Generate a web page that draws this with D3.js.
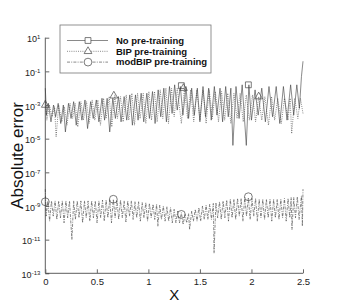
<!DOCTYPE html>
<html>
<head>
<meta charset="utf-8">
<script src="https://cdn.jsdelivr.net/npm/d3@7"></script>
<style>
  body { margin: 0; background: #fff; }
  svg { font-family: "Liberation Sans", Arial, sans-serif; }
</style>
</head>
<body>
<svg id="chart" width="346" height="308"></svg>
<script>
// Absolute error vs x, three pre-training variants (values as log10 of error)

const noPreX = [0.000,0.012,0.030,0.055,0.080,0.100,0.125,0.150,0.175,0.195,0.225,0.250,0.275,0.300,0.330,0.355,0.385,0.410,0.440,0.465,0.495,0.520,0.550,0.575,0.600,0.625,0.655,0.680,0.710,0.735,0.765,0.790,0.820,0.845,0.875,0.900,0.930,0.955,0.985,1.010,1.040,1.065,1.095,1.120,1.150,1.175,1.205,1.230,1.255,1.280,1.310,1.335,1.365,1.390,1.420,1.445,1.475,1.500,1.530,1.555,1.585,1.610,1.640,1.665,1.695,1.720,1.750,1.775,1.800,1.820,1.850,1.880,1.910,1.950,1.975,2.000,2.035,2.065,2.100,2.135,2.170,2.205,2.240,2.275,2.310,2.345,2.380,2.410,2.440,2.465,2.485,2.500];
const noPreLog = [-2.0,-3.6,-2.9,-4.0,-3.0,-3.7,-2.9,-4.1,-3.0,-4.6,-2.9,-3.8,-2.8,-4.2,-2.8,-3.9,-2.7,-4.4,-2.8,-3.8,-2.7,-4.0,-2.6,-3.9,-2.6,-4.6,-2.6,-3.8,-2.5,-4.0,-2.5,-3.9,-2.4,-4.2,-2.4,-3.9,-2.3,-4.0,-2.3,-3.8,-2.2,-4.1,-2.1,-3.7,-2.0,-4.0,-1.9,-3.5,-1.8,-3.3,-1.9,-3.6,-1.9,-3.8,-2.0,-3.6,-2.0,-4.0,-1.9,-3.7,-2.0,-3.9,-1.9,-3.6,-2.0,-4.0,-1.9,-3.7,-2.0,-5.4,-1.9,-3.8,-1.8,-5.4,-1.8,-3.9,-2.1,-3.6,-2.0,-4.0,-1.9,-3.7,-1.9,-4.1,-1.9,-3.9,-1.8,-3.6,-1.8,-3.2,-1.3,-0.4];

const bipX = [0.000,0.015,0.040,0.065,0.090,0.105,0.130,0.160,0.185,0.210,0.240,0.265,0.290,0.315,0.345,0.370,0.400,0.425,0.455,0.480,0.510,0.535,0.565,0.590,0.620,0.645,0.675,0.700,0.730,0.755,0.785,0.810,0.840,0.865,0.895,0.920,0.950,0.975,1.005,1.030,1.060,1.085,1.115,1.140,1.170,1.195,1.225,1.250,1.280,1.320,1.350,1.380,1.410,1.440,1.470,1.500,1.530,1.560,1.590,1.620,1.650,1.680,1.710,1.740,1.770,1.800,1.830,1.860,1.890,1.920,1.950,1.980,2.010,2.040,2.070,2.100,2.130,2.165,2.195,2.225,2.255,2.290,2.320,2.355,2.375,2.390,2.420,2.450,2.475,2.500];
const bipLog = [-2.7,-3.9,-3.0,-3.7,-3.1,-4.9,-3.0,-4.0,-3.1,-4.2,-2.9,-3.8,-2.9,-4.3,-2.8,-3.9,-2.8,-4.1,-2.7,-3.9,-2.7,-4.2,-2.6,-3.8,-2.5,-4.3,-2.4,-3.8,-2.5,-4.0,-2.4,-3.9,-2.3,-4.2,-2.3,-3.8,-2.3,-4.1,-2.2,-3.9,-2.2,-4.0,-2.1,-3.8,-2.0,-4.1,-2.0,-3.7,-2.0,-4.1,-2.0,-3.8,-2.1,-4.0,-2.1,-3.9,-2.1,-4.1,-2.1,-3.8,-2.2,-4.0,-2.2,-3.9,-2.3,-4.1,-2.3,-3.8,-2.3,-4.0,-2.4,-3.9,-2.4,-4.0,-2.5,-3.9,-2.5,-4.2,-2.5,-3.9,-2.6,-4.1,-2.6,-3.9,-2.6,-4.7,-2.6,-3.8,-2.6,-3.5];

const modX = [0.000,0.008,0.025,0.042,0.060,0.077,0.095,0.112,0.130,0.147,0.165,0.182,0.200,0.217,0.235,0.258,0.275,0.292,0.310,0.327,0.345,0.362,0.380,0.397,0.415,0.432,0.450,0.467,0.485,0.502,0.520,0.537,0.555,0.572,0.590,0.607,0.625,0.642,0.660,0.677,0.695,0.712,0.730,0.747,0.765,0.782,0.800,0.817,0.835,0.852,0.870,0.887,0.905,0.922,0.940,0.957,0.975,0.992,1.010,1.027,1.045,1.062,1.080,1.092,1.110,1.127,1.145,1.162,1.180,1.197,1.215,1.232,1.250,1.267,1.285,1.302,1.320,1.337,1.355,1.372,1.390,1.400,1.420,1.437,1.455,1.472,1.490,1.507,1.525,1.542,1.560,1.577,1.595,1.612,1.630,1.637,1.655,1.672,1.690,1.707,1.725,1.742,1.760,1.777,1.795,1.812,1.830,1.847,1.865,1.882,1.900,1.917,1.935,1.952,1.970,1.987,2.005,2.022,2.040,2.057,2.075,2.092,2.110,2.127,2.145,2.162,2.180,2.197,2.215,2.232,2.250,2.267,2.285,2.302,2.320,2.337,2.355,2.372,2.385,2.393,2.410,2.427,2.445,2.462,2.485,2.494,2.500];
const modLog = [-8.0,-9.6,-8.7,-9.9,-8.7,-9.6,-8.7,-9.8,-8.7,-9.7,-8.7,-10.0,-8.7,-9.7,-8.7,-11.0,-8.7,-9.8,-8.7,-9.7,-8.7,-10.0,-8.7,-9.7,-8.7,-9.9,-8.7,-9.7,-8.7,-10.0,-8.7,-9.7,-8.65,-9.9,-8.65,-9.7,-8.6,-10.0,-8.6,-9.7,-8.65,-9.8,-8.65,-9.7,-8.7,-9.95,-8.7,-9.6,-8.7,-9.8,-8.75,-9.7,-8.75,-9.9,-8.8,-9.7,-8.8,-9.9,-8.85,-9.7,-8.9,-9.8,-8.9,-10.2,-8.95,-9.8,-9.0,-9.9,-9.05,-9.9,-9.1,-10.0,-9.2,-10.0,-9.3,-10.0,-9.4,-10.1,-9.5,-10.0,-9.45,-10.4,-9.3,-9.9,-9.2,-9.9,-9.1,-9.9,-9.0,-9.8,-8.95,-9.8,-8.9,-9.8,-8.85,-11.8,-8.8,-9.7,-8.75,-9.8,-8.7,-9.7,-8.65,-9.9,-8.6,-9.7,-8.6,-9.8,-8.55,-9.6,-8.55,-9.9,-8.5,-9.6,-8.5,-9.8,-8.55,-9.6,-8.55,-9.9,-8.6,-9.7,-8.6,-9.8,-8.6,-9.7,-8.6,-9.9,-8.6,-9.7,-8.6,-9.8,-8.6,-9.7,-8.55,-9.9,-8.55,-9.7,-8.5,-10.4,-8.5,-9.7,-8.45,-9.8,-8.4,-10.2,-8.0];

// symbol positions [x, log10 error]
const squareMarks = [[1.32, -1.85], [1.97, -1.8]];
const triangleMarks = [[0.0, -3.0], [0.665, -2.45], [1.34, -2.0], [2.07, -2.5]];
const circleMarks = [[0.0, -8.75], [0.66, -8.6], [1.32, -9.5], [1.97, -8.45]];

const xTicks = [0, 0.5, 1, 1.5, 2, 2.5];
const yTickExps = [1, -1, -3, -5, -7, -9, -11, -13];
const legendLabels = ['No pre-training', 'BIP pre-training', 'modBIP pre-training'];

const svg = d3.select('#chart');
const margin = { left: 45.3, right: 43, top: 37.7, bottom: 34.7 };
const width = 346, height = 308;

const x = d3.scaleLinear().domain([0, 2.5]).range([margin.left, width - margin.right]);
const y = d3.scaleLog().domain([1e-13, 10]).range([height - margin.bottom, margin.top]);

const toPts = (xs, ls) => xs.map((d, i) => [d, Math.pow(10, ls[i])]);
const line = d3.line().x(d => x(d[0])).y(d => y(d[1]));

const series = [
  { name: legendLabels[0], pts: toPts(noPreX, noPreLog), dash: null, mark: 'square', marks: squareMarks },
  { name: legendLabels[1], pts: toPts(bipX, bipLog), dash: '1,1.2', mark: 'triangle', marks: triangleMarks },
  { name: legendLabels[2], pts: toPts(modX, modLog), dash: '3,1.2,1,1.2', mark: 'circle', marks: circleMarks }
];

const symbolPath = {
  square: d3.symbol().type(d3.symbolSquare).size(34),
  triangle: d3.symbol().type(d3.symbolTriangle).size(26),
  circle: d3.symbol().type(d3.symbolCircle).size(48)
};

// curves
const plot = svg.append('g');
series.slice().reverse().forEach(s => {
  plot.append('path')
    .datum(s.pts)
    .attr('d', line)
    .attr('fill', 'none')
    .attr('stroke', '#3a3a3a')
    .attr('stroke-width', 0.6)
    .attr('stroke-dasharray', s.dash);
});

// markers
series.forEach(s => {
  plot.selectAll(null)
    .data(s.marks)
    .enter()
    .append('path')
    .attr('d', symbolPath[s.mark])
    .attr('transform', d => `translate(${x(d[0])},${y(Math.pow(10, d[1]))})`)
    .attr('fill', 'none')
    .attr('stroke', '#444')
    .attr('stroke-width', 0.7);
});

// axes
const yAxis = d3.axisLeft(y)
  .tickValues(yTickExps.map(e => Math.pow(10, e)))
  .tickSize(-4)
  .tickPadding(5)
  .tickFormat('');

const gy = svg.append('g')
  .attr('transform', `translate(${margin.left},0)`)
  .call(yAxis);
gy.select('.domain').attr('stroke', '#333').attr('stroke-width', 0.8);
gy.selectAll('.tick line').attr('stroke', '#666').attr('stroke-width', 1);
gy.selectAll('.tick text').each(function(d) {
  const t = d3.select(this)
    .attr('font-size', 9)
    .attr('fill', '#222')
    .attr('x', -5)
    .attr('dy', '0.45em');
  t.append('tspan').text('10');
  t.append('tspan')
    .attr('dy', '-0.55em')
    .attr('font-size', 6)
    .text(String(Math.round(Math.log10(d))));
});

const xAxis = d3.axisBottom(x)
  .tickValues(xTicks)
  .tickSize(-4)
  .tickPadding(5)
  .tickFormat(d => String(d));

const gx = svg.append('g')
  .attr('transform', `translate(0,${height - margin.bottom})`)
  .call(xAxis);
gx.select('.domain').attr('stroke', '#333').attr('stroke-width', 0.8);
gx.selectAll('.tick line').attr('stroke', '#666').attr('stroke-width', 1);
gx.selectAll('.tick text').attr('font-size', 9.5).attr('fill', '#222');

// plain axis lines, no end caps
gy.select('.domain').attr('d', `M0,${y(1e-13)}V${y(10)}`);
gx.select('.domain').attr('d', `M${x(0)},0H${x(2.5)}`);

// axis titles
svg.append('text')
  .attr('transform', `translate(23,${(margin.top + height - margin.bottom) / 2}) rotate(-90)`)
  .attr('text-anchor', 'middle')
  .attr('font-size', 17)
  .attr('fill', '#111')
  .text('Absolute error');

svg.append('text')
  .attr('x', (x(0) + x(2.5)) / 2)
  .attr('y', 300)
  .attr('text-anchor', 'middle')
  .attr('font-size', 15)
  .attr('fill', '#111')
  .text('X');

// legend
const lg = svg.append('g').attr('transform', 'translate(60,25)');
lg.append('rect')
  .attr('width', 151)
  .attr('height', 48)
  .attr('fill', '#fff')
  .attr('stroke', '#777')
  .attr('stroke-width', 0.8);

series.forEach((s, i) => {
  const ly = 15.5 + i * 10.8;
  lg.append('line')
    .attr('x1', 7).attr('x2', 48)
    .attr('y1', ly).attr('y2', ly)
    .attr('stroke', '#3a3a3a')
    .attr('stroke-width', 0.6)
    .attr('stroke-dasharray', s.dash);
  lg.append('path')
    .attr('d', symbolPath[s.mark])
    .attr('transform', `translate(28,${ly})`)
    .attr('fill', '#fff')
    .attr('stroke', '#444')
    .attr('stroke-width', 0.7);
  lg.append('text')
    .attr('x', 56)
    .attr('y', ly)
    .attr('dy', '0.35em')
    .attr('font-size', 9.5)
    .attr('font-weight', 'bold')
    .attr('fill', '#111')
    .text(s.name);
});
</script>
</body>
</html>
